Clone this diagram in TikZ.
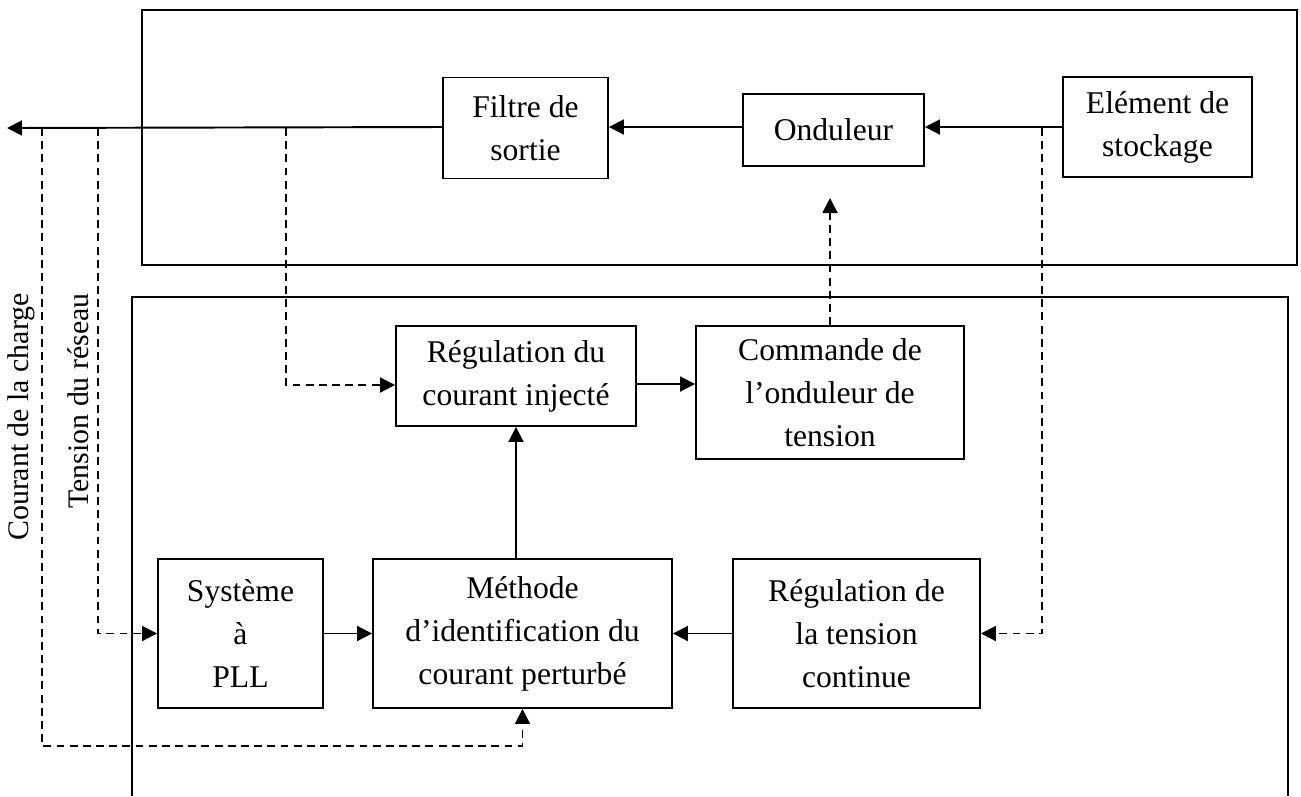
\documentclass[tikz,border=0pt]{standalone}
\usepackage{fontspec}
\setmainfont{Liberation Serif}
\usepackage{tikz}
\usetikzlibrary{arrows.meta,positioning,calc}
\tikzset{
  blocbox/.style={
    draw=black,
    line width=1.1pt,
    fill=white,
    align=center,
    inner sep=2pt,
    font=\fontsize{18}{24.5}\selectfont
  },
  cadre/.style={draw=black, line width=1.1pt},
  flow/.style={-{Triangle[length=0.3cm,width=0.3cm]}, line width=1.1pt},
  mesure/.style={flow, dash pattern=on 4.5pt off 3pt},
  sidelabel/.style={rotate=90, anchor=east, inner sep=0pt, font=\fontsize{17}{20}\selectfont}
}

\begin{document}
\begin{tikzpicture}[x=0.02cm, y=-0.02cm]
  \useasboundingbox (0,0) rectangle (1301,796);

  % les deux cadres
  \draw[cadre] (142,10) rectangle (1297,265);
  \draw[cadre] (132,796) -- (132,297) -- (1288,297) -- (1288,796);

  % partie puissance
  \node[blocbox, minimum width=3.3cm, minimum height=2.02cm] (filtre) at (525.5,128) {Filtre de\\sortie};
  \node[blocbox, minimum width=3.62cm, minimum height=1.44cm] (ond) at (833.5,130) {Onduleur};
  \node[blocbox, minimum width=3.78cm, minimum height=2cm] (stock) at (1157.5,127) {Elément de\\stockage};

  % partie commande
  \node[blocbox, minimum width=4.8cm, minimum height=2cm] (regi) at (516,376) {Régulation du\\courant injecté};
  \node[blocbox, minimum width=5.36cm, minimum height=2.66cm] (cmd) at (830,392.5) {Commande de\\l’onduleur de\\tension};
  \node[blocbox, minimum width=3.3cm, minimum height=2.98cm] (pll) at (240.5,633.5) {Système\\à\\PLL};
  \node[blocbox, minimum width=5.98cm, minimum height=2.98cm] (meth) at (522.5,633.5) {Méthode\\d’identification du\\courant perturbé};
  \node[blocbox, minimum width=4.94cm, minimum height=2.98cm] (regv) at (856.5,633.5) {Régulation de\\la tension\\continue};

  \node[sidelabel] (lblcharge) at (21,293) {Courant de la charge};
  \node[sidelabel] (lblreseau) at (78,293) {Tension du réseau};

  \coordinate (sortie) at (7,128);
  \coordinate (tapI) at (42,128);
  \coordinate (tapV) at (98,128);
  \coordinate (tapR) at (286,128);
  \coordinate (tapS) at (1042,128);
  \coordinate (cmdtip) at (830,198);
  \coordinate (rout) at ([yshift=-0.16cm]regi.east);

  \draw[flow] (stock.west) -- (ond.east |- stock.west);
  \draw[flow] (ond.west |- stock.west) -- (filtre.east |- stock.west);
  \draw[flow] (filtre.west |- stock.west) -- (sortie);

  \draw[mesure] (tapI) -- (42,746) -| (meth.south);
  \draw[mesure] (tapV) |- (pll.west);
  \draw[mesure] (tapR) |- ([yshift=-0.18cm]regi.west);
  \draw[mesure] (tapS) |- (regv.east);
  \draw[mesure] (cmd.north) -- (cmdtip);

  \draw[flow] (meth.north -| regi.south) -- (regi.south);
  \draw[flow] (rout) -- (rout -| cmd.west);
  \draw[flow] (pll) -- (meth);
  \draw[flow] (regv) -- (meth);
\end{tikzpicture}
\end{document}
